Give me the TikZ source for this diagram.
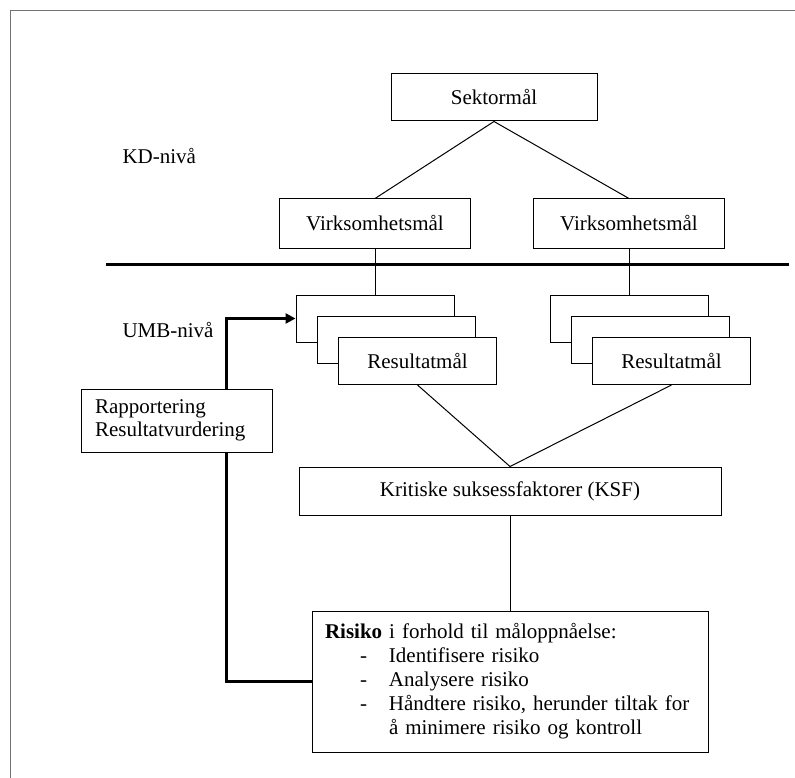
\documentclass[tikz,border=0pt]{standalone}
\usepackage{fontspec}
\setmainfont{Liberation Serif}
\usetikzlibrary{arrows.meta}

\begin{document}
\begin{tikzpicture}[x=1pt, y=-1pt, every node/.style={font=\fontsize{21}{24}\selectfont}, >={Triangle[length=10pt,width=10pt]},
	box/.style={draw, fill=white, line width=1pt, inner sep=0pt, minimum height=47pt},
	res/.style={box, minimum width=158pt}]
	\useasboundingbox (0,0) rectangle (795,778);
	\draw[black!55, line width=1.5pt] (10.5,778) -- (10.5,10.5) -- (795,10.5);
	\node[anchor=base west] (kd) at (119,164) {KD-nivå};
	\node[anchor=base west] (umb) at (119,337) {UMB-nivå};
	\node[box, minimum width=206pt] (sektor) at (494,97.5) {Sektormål};
	\node[box, minimum width=191pt, minimum height=49pt] (virkL) at (375,223.5) {Virksomhetsmål};
	\node[box, minimum width=191pt, minimum height=49pt] (virkR) at (629,223.5) {Virksomhetsmål};
	\draw[line width=1pt] (sektor.south) -- (virkL.north);
	\draw[line width=1pt] (sektor.south) -- (virkR.north);
	\draw[line width=3pt] (106,264) -- (789,264);
	\foreach \n/\x in {L/375, R/629} {
		\node[res] (res\n1) at (\x,318.5) {};
		\node[res] (res\n2) at (\x+21,339.5) {};
		\node[res] (res\n3) at (\x+42.5,361) {Resultatmål};
		\draw[line width=1pt] (virk\n.south) -- (res\n1.north);
	}
	\node[box, minimum width=422pt, minimum height=48pt] (ksf) at (510,491) {Kritiske suksessfaktorer (KSF)};
	\draw[line width=1pt] (resL3.south) -- (ksf.north) -- (resR3.south);
	\node[box, text width=370pt, inner xsep=13pt, minimum height=141pt, align=left] (risiko) at (510,681.5) {\textbf{Risiko} i forhold til måloppnåelse:\\
		\hspace*{35pt}\makebox[29pt][l]{-}Identifisere risiko\\
		\hspace*{35pt}\makebox[29pt][l]{-}Analysere risiko\\
		\hspace*{35pt}\makebox[29pt][l]{-}Håndtere risiko, herunder tiltak for\\
		\hspace*{64pt}å minimere risiko og kontroll};
	\draw[line width=1pt] (ksf.south) -- (risiko.north);
	\node[box, text width=163pt, inner xsep=14pt, minimum height=63pt, align=left, font=\fontsize{21}{23}\selectfont] (rapport) at (176.5,420.5) {Rapportering\\Resultatvurdering};
	\coordinate (fb) at (226,0);
	\draw[->, line width=3pt] (rapport.north -| fb) |- (resL1.west);
	\draw[line width=3pt] (risiko.west) -| (rapport.south -| fb);
\end{tikzpicture}
\end{document}
